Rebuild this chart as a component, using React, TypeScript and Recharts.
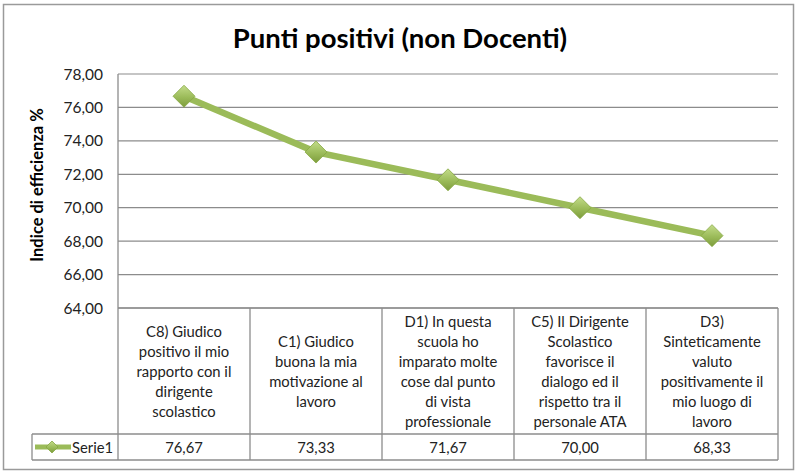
import { CartesianGrid, Label, Line, LineChart, XAxis, YAxis } from "recharts";

const categories = [
  "C8) Giudico\npositivo il mio\nrapporto con il\ndirigente\nscolastico",
  "C1) Giudico\nbuona la mia\nmotivazione al\nlavoro",
  "D1) In questa\nscuola ho\nimparato molte\ncose dal punto\ndi vista\nprofessionale",
  "C5) Il Dirigente\nScolastico\nfavorisce il\ndialogo ed il\nrispetto tra il\npersonale ATA",
  "D3)\nSinteticamente\nvaluto\npositivamente il\nmio luogo di\nlavoro",
];
const serie1 = [76.67, 73.33, 71.67, 70.0, 68.33];
const yTicks = [64, 66, 68, 70, 72, 74, 76, 78];
const seriesName = "Serie1";

const data = categories.map((c, i) => ({ category: c, value: serie1[i] }));

const W = 800;
const H = 475;
const PLOT_LEFT = 118;
const PLOT_RIGHT = 22;
const PLOT_TOP = 74;
const PLOT_BOTTOM = 308;
const BAND = (W - PLOT_LEFT - PLOT_RIGHT) / categories.length;
const LABEL_ROW = 126;
const VALUE_ROW = 26;

const FONT = "Lato, 'Open Sans', sans-serif";
const GREEN = "#9bbb59";
const GRID = "#8c8c8c";
const TABLE = "#8c8c8c";
const TXT = 14.8;

const fmt = (v: number) => v.toFixed(2).replace(".", ",");

function Diamond({ cx, cy, r = 10 }: { cx: number; cy: number; r?: number }) {
  return (
    <path
      d={`M${cx},${cy - r} L${cx + r},${cy} L${cx},${cy + r} L${cx - r},${cy} Z`}
      fill="url(#diamondFill)"
      stroke="#86a843"
      strokeWidth={0.8}
    />
  );
}

function TableTick(props: any) {
  const { x, y, payload, index } = props;
  const half = BAND / 2;
  const lines = String(payload.value).split("\n");
  const mid = y + LABEL_ROW / 2;
  const lh = 20;
  const start = mid - ((lines.length - 1) * lh) / 2;
  const rowY = y + LABEL_ROW;
  const botY = rowY + VALUE_ROW;
  return (
    <g>
      <line x1={x + half} y1={y} x2={x + half} y2={botY} stroke={TABLE} strokeWidth={1.3} />
      <line x1={x - half} y1={rowY} x2={x + half} y2={rowY} stroke={TABLE} strokeWidth={1.3} />
      <line x1={x - half} y1={botY} x2={x + half} y2={botY} stroke={TABLE} strokeWidth={1.3} />
      {lines.map((l, i) => (
        <text
          key={i}
          x={x}
          y={start + i * lh}
          textAnchor="middle"
          dominantBaseline="central"
          fontFamily={FONT}
          fontSize={TXT}
          fill="#222"
        >
          {l}
        </text>
      ))}
      <text
        x={x}
        y={rowY + VALUE_ROW / 2}
        textAnchor="middle"
        dominantBaseline="central"
        fontFamily={FONT}
        fontSize={TXT}
        fill="#222"
      >
        {fmt(serie1[index])}
      </text>
      {index === 0 && (
        <g>
          <line x1={x - half} y1={y} x2={x - half} y2={botY} stroke={TABLE} strokeWidth={1.3} />
          <line x1={32} y1={rowY} x2={x - half} y2={rowY} stroke={TABLE} strokeWidth={1.3} />
          <line x1={32} y1={botY} x2={x - half} y2={botY} stroke={TABLE} strokeWidth={1.3} />
          <line x1={32} y1={rowY} x2={32} y2={botY} stroke={TABLE} strokeWidth={1.3} />
          <line
            x1={35}
            y1={rowY + VALUE_ROW / 2}
            x2={71}
            y2={rowY + VALUE_ROW / 2}
            stroke={GREEN}
            strokeWidth={5}
          />
          <Diamond cx={52} cy={rowY + VALUE_ROW / 2} r={6} />
          <text
            x={72}
            y={rowY + VALUE_ROW / 2}
            dominantBaseline="central"
            fontFamily={FONT}
            fontSize={TXT}
            fill="#222"
          >
            {seriesName}
          </text>
        </g>
      )}
    </g>
  );
}

export default function App() {
  return (
    <div style={{ position: "absolute", left: 0, top: 0, width: W, height: H, background: "#fff" }}>
      <LineChart
        width={W}
        height={H}
        data={data}
        margin={{ top: PLOT_TOP, right: PLOT_RIGHT, bottom: 0, left: 0 }}
      >
        <defs>
          <linearGradient id="diamondFill" x1="0" y1="0" x2="0" y2="1">
            <stop offset="0%" stopColor="#c3dc8a" />
            <stop offset="55%" stopColor="#9bbb59" />
            <stop offset="100%" stopColor="#7d9c3c" />
          </linearGradient>
        </defs>
        <rect x={3.5} y={4.5} width={790} height={465} fill="none" stroke="#9a9a9a" strokeWidth={1.5} />
        <text
          x={W / 2}
          y={37}
          textAnchor="middle"
          dominantBaseline="central"
          fontFamily={FONT}
          fontWeight="bold"
          fontSize={27.5}
          fill="#000"
        >
          Punti positivi (non Docenti)
        </text>
        <CartesianGrid vertical={false} stroke={GRID} strokeWidth={1.2} />
        <XAxis
          dataKey="category"
          scale="band"
          height={H - PLOT_BOTTOM}
          axisLine={{ stroke: TABLE, strokeWidth: 1.3 }}
          tickLine={false}
          tickSize={0}
          tickMargin={0}
          interval={0}
          tick={<TableTick />}
        />
        <YAxis
          width={PLOT_LEFT}
          domain={[64, 78]}
          ticks={yTicks}
          allowDataOverflow
          tickFormatter={fmt}
          axisLine={{ stroke: TABLE, strokeWidth: 1.3 }}
          tickLine={false}
          tickSize={0}
          tickMargin={15}
          tick={{ fontFamily: FONT, fontSize: 15.5, fill: "#222" }}
        >
          <Label
            value="Indice di efficienza %"
            angle={-90}
            position="insideLeft"
            offset={37}
            dy={-6}
            style={{ fontFamily: FONT, fontSize: 16.5, fontWeight: "bold", fill: "#000", textAnchor: "middle" }}
          />
        </YAxis>
        <Line
          type="linear"
          dataKey="value"
          name={seriesName}
          stroke={GREEN}
          strokeWidth={6.5}
          isAnimationActive={false}
          dot={(p: any) => <Diamond key={p.index} cx={p.cx} cy={p.cy} r={11} />}
          activeDot={false}
        />
      </LineChart>
    </div>
  );
}
